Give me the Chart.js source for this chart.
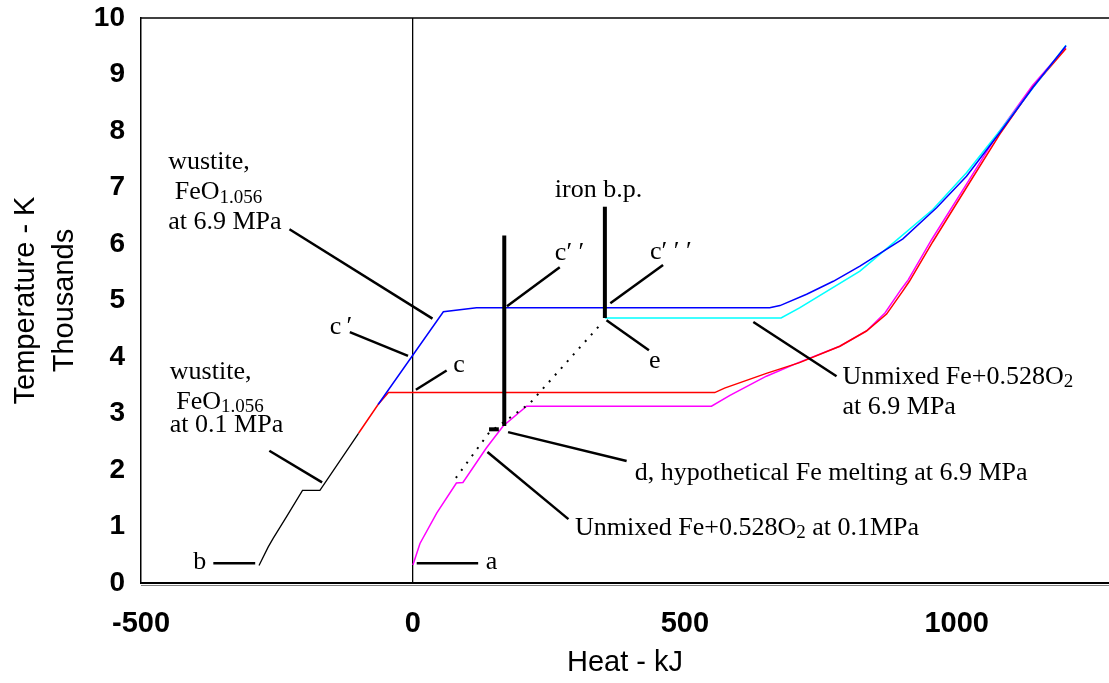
<!DOCTYPE html>
<html>
<head>
<meta charset="utf-8">
<script src="https://cdn.jsdelivr.net/npm/chart.js@4.4.1/dist/chart.umd.min.js"></script>
<style>
  body { margin: 0; background: #fff; }
  #wrap { width: 1109px; height: 683px; }
</style>
</head>
<body>
<div id="wrap"><canvas id="mycanvas" width="1109" height="683"></canvas></div>
<script>
// tick values
var xTicks = [-500, 0, 500, 1000];
var yTicks = [0, 1, 2, 3, 4, 5, 6, 7, 8, 9, 10];

// wustite at 0.1 MPa, solid part (black)
var solidX = [-283, -266, -257, -232, -203, -171, -100];
var solidY = [0.31, 0.64, 0.79, 1.18, 1.64, 1.64, 2.65];

// wustite at 0.1 MPa, liquid part (red)
var redX = [-100, -64, -45, 555, 573, 650, 711, 785, 834, 871, 901, 913, 956, 1018, 1079, 1140, 1201];
var redY = [2.65, 3.16, 3.37, 3.37, 3.45, 3.71, 3.90, 4.19, 4.46, 4.76, 5.17, 5.34, 6.04, 7.00, 7.94, 8.78, 9.46];

// wustite at 6.9 MPa (blue)
var blueX = [-64, 56, 117, 656, 675, 724, 773, 822, 901, 963, 1018, 1079, 1140, 1201];
var blueY = [3.16, 4.80, 4.87, 4.87, 4.91, 5.11, 5.34, 5.61, 6.09, 6.64, 7.20, 7.97, 8.77, 9.51];

// unmixed Fe + 0.528 O2 at 0.1 MPa (magenta)
var magX = [0, 13, 44, 80, 92, 135, 166, 209, 549, 583, 650, 711, 785, 834, 868, 898, 911, 954, 1016, 1077, 1139, 1200];
var magY = [0.32, 0.70, 1.24, 1.77, 1.78, 2.39, 2.78, 3.13, 3.13, 3.32, 3.66, 3.91, 4.19, 4.46, 4.78, 5.20, 5.37, 6.08, 7.03, 7.97, 8.80, 9.48];

// unmixed Fe + 0.528 O2 at 6.9 MPa (cyan)
var cyanX = [353, 677, 711, 822, 871, 956, 1018, 1079, 1201];
var cyanY = [4.69, 4.69, 4.87, 5.52, 5.92, 6.61, 7.26, 8.00, 9.52];

// hypothetical path (dotted)
var dotX = [79, 140, 215, 349];
var dotY = [1.86, 2.66, 3.18, 4.62];

// heavy marker bars: [x0, x1], [y0, y1]
var barX = [[168, 168], [353, 353], [140, 158]];
var barY = [[2.78, 6.15], [4.69, 6.66], [2.72, 2.72]];

// leader lines
var leadX = [[-227, 36], [-116, -9], [62, 5.5], [-264, -167], [-367, -290], [7, 120],
             [270, 173], [460, 363], [356, 434], [626, 779], [175, 393], [137, 286]];
var leadY = [[6.26, 4.68], [4.44, 4.02], [3.76, 3.42], [2.34, 1.78], [0.35, 0.35], [0.35, 0.35],
             [5.59, 4.90], [5.63, 4.95], [4.65, 4.12], [4.62, 3.66], [2.67, 2.16], [2.32, 1.13]];

// annotation texts (left edge x, middle y)
var noteText = ["wustite,", " FeO_{1.056}", "at 6.9 MPa", "c\u2009\u2032", "c",
                "wustite,", " FeO_{1.056}", "at 0.1 MPa", "b", "a", "iron b.p.",
                "c\u2032 \u2032", "c\u2032 \u2032 \u2032", "e",
                "d, hypothetical Fe melting at 6.9 MPa",
                "Unmixed Fe+0.528O_{2} at 0.1MPa",
                "Unmixed Fe+0.528O_{2}", "at 6.9 MPa"];
var noteX = [-450, -450, -450, -153, 74, -447, -447, -447, -404, 134, 261, 261, 436, 434, 408, 298, 790, 790];
var noteY = [7.45, 6.91, 6.39, 4.53, 3.86, 3.73, 3.20, 2.80, 0.37, 0.37, 6.96, 5.84, 5.86, 3.93, 1.95, 0.97, 3.65, 3.12];

function pts(xs, ys) {
    var out = [];
    for (var i = 0; i < xs.length; i++) out.push({x: xs[i], y: ys[i]});
    return out;
}

function curve(xs, ys, color, width, dash) {
    return {
        data: pts(xs, ys),
        borderColor: color,
        borderWidth: width,
        borderDash: dash || [],
        pointRadius: 0,
        fill: false,
        tension: 0
    };
}

var datasets = [];
for (var i = 0; i < leadX.length; i++) datasets.push(curve(leadX[i], leadY[i], '#000', 2.5));
for (var j = 0; j < barX.length; j++) datasets.push(curve(barX[j], barY[j], '#000', 4));
datasets.push(curve(dotX, dotY, '#000', 2, [2, 7]));
datasets.push(curve(solidX, solidY, '#000', 1.3));
datasets.push(curve(blueX, blueY, '#0000ff', 1.5));
datasets.push(curve(cyanX, cyanY, '#00ffff', 1.6));
datasets.push(curve(redX, redY, '#ff0000', 1.5));
datasets.push(curve(magX, magY, '#ff00ff', 1.5));

var serif = '"Liberation Serif", "Times New Roman", serif';
var sans = '"Liberation Sans", Arial, sans-serif';

// draws the annotation texts, with _{..} as subscript
var notesPlugin = {
    id: 'notes',
    afterDatasetsDraw: function(chart) {
        var ctx = chart.ctx;
        var xs = chart.scales.x, ys = chart.scales.y;
        ctx.save();
        ctx.fillStyle = '#000';
        ctx.textBaseline = 'middle';
        ctx.textAlign = 'left';
        for (var i = 0; i < noteText.length; i++) {
            var px = xs.getPixelForValue(noteX[i]);
            var py = ys.getPixelForValue(noteY[i]);
            var parts = noteText[i].split(/_\{|\}/);
            for (var k = 0; k < parts.length; k++) {
                if (!parts[k]) continue;
                var sub = k % 2 == 1;
                ctx.font = (sub ? '19px ' : '26px ') + serif;
                ctx.fillText(parts[k], px, py + (sub ? 5 : 0));
                px += ctx.measureText(parts[k]).width;
            }
        }
        ctx.restore();
    }
};

// top edge and the double bottom edge of the plot frame
var framePlugin = {
    id: 'frame',
    afterDraw: function(chart) {
        var a = chart.chartArea, ctx = chart.ctx;
        ctx.save();
        ctx.strokeStyle = '#000';
        ctx.lineWidth = 1.5;
        ctx.beginPath();
        ctx.moveTo(a.left, a.top);
        ctx.lineTo(a.right, a.top);
        ctx.stroke();
        ctx.strokeStyle = '#808080';
        ctx.lineWidth = 1;
        ctx.beginPath();
        ctx.moveTo(a.left, a.bottom + 2.5);
        ctx.lineTo(a.right, a.bottom + 2.5);
        ctx.stroke();
        ctx.restore();
    }
};

var canvas = document.getElementById('mycanvas');
var myChart = new Chart(canvas, {
    type: 'line',
    data: { datasets: datasets },
    plugins: [notesPlugin, framePlugin],
    options: {
        responsive: false,
        animation: false,
        layout: { padding: { top: 18, left: 0, right: 0, bottom: 0 } },
        plugins: {
            legend: { display: false },
            tooltip: { enabled: false }
        },
        scales: {
            x: {
                type: 'linear',
                min: -500,
                max: 1280,
                afterBuildTicks: function(scale) {
                    scale.ticks = xTicks.map(function(v) { return {value: v}; });
                },
                afterFit: function(scale) { scale.height = 100; },
                grid: {
                    drawTicks: false,
                    color: function(c) { return c.tick && c.tick.value === 0 ? '#000' : 'rgba(0,0,0,0)'; },
                    lineWidth: 1.3
                },
                border: { display: true, color: '#000', width: 2 },
                ticks: {
                    padding: 24,
                    color: '#000',
                    font: { family: sans, size: 29, weight: 'bold' },
                    callback: function(v) { return String(v); }
                },
                title: {
                    display: true,
                    text: 'Heat - kJ',
                    color: '#000',
                    padding: { top: 0, bottom: 3 },
                    font: { family: sans, size: 29 }
                }
            },
            y: {
                min: 0,
                max: 10,
                afterBuildTicks: function(scale) {
                    scale.ticks = yTicks.map(function(v) { return {value: v}; });
                },
                afterFit: function(scale) {
                    scale.width = 141;
                    scale.paddingTop = 0;
                    scale.paddingBottom = 0;
                },
                grid: { display: false },
                border: { display: true, color: '#000', width: 1.5 },
                ticks: {
                    padding: 8,
                    color: '#000',
                    font: { family: sans, size: 28, weight: 'bold' }
                },
                title: {
                    display: true,
                    text: ['Temperature - K', 'Thousands'],
                    color: '#000',
                    padding: { top: 6, bottom: 0 },
                    font: { family: sans, size: 29, lineHeight: 1.35 }
                }
            }
        }
    }
});
</script>
</body>
</html>
